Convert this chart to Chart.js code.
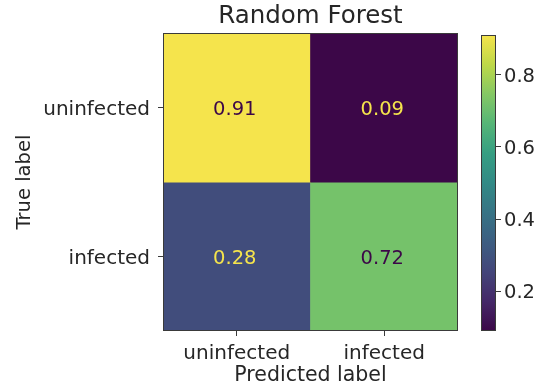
<!DOCTYPE html>
<html>
<head>
<meta charset="utf-8">
<script src="https://cdn.jsdelivr.net/npm/chart.js@4.4.1/dist/chart.umd.min.js"></script>
<style>
  html, body { margin: 0; padding: 0; background: #ffffff; }
  #wrap { position: relative; width: 538px; height: 387px; overflow: hidden; }
  #heat { position: absolute; left: 0; top: 0; }
  #cbar { position: absolute; left: 440px; top: 0; }
</style>
</head>
<body>
<div id="wrap">
  <canvas id="heat" width="470" height="387"></canvas>
  <canvas id="cbar" width="98" height="387"></canvas>
</div>
<script>
// Confusion matrix (normalised by true class)
const classLabels = ['uninfected', 'infected'];
const rowUninfected = [0.91, 0.09];
const rowInfected = [0.28, 0.72];
const colorbarTicks = [0.2, 0.4, 0.6, 0.8];
const chartTitle = 'Random Forest';
const xAxisTitle = 'Predicted label';
const yAxisTitle = 'True label';

const matrixRows = [rowUninfected, rowInfected];
const allValues = matrixRows.flat();
const vmin = Math.min(...allValues);
const vmax = Math.max(...allValues);

// viridis colormap, 11 evenly spaced stops, rendered slightly muted
const VIRIDIS = ['#440154', '#482475', '#414487', '#355f8d', '#2a788e', '#21918c',
                 '#22a884', '#44bf70', '#7ad151', '#bddf26', '#fde725'];
const SATURATION = 0.78;
function hexToRgb(h) {
  return [parseInt(h.slice(1, 3), 16), parseInt(h.slice(3, 5), 16), parseInt(h.slice(5, 7), 16)];
}
const VIRIDIS_RGB = VIRIDIS.map(hexToRgb);
function viridis(t) {
  t = Math.max(0, Math.min(1, t));
  const pos = t * (VIRIDIS_RGB.length - 1);
  const i = Math.min(Math.floor(pos), VIRIDIS_RGB.length - 2);
  const f = pos - i;
  const a = VIRIDIS_RGB[i], b = VIRIDIS_RGB[i + 1];
  const c = a.map((v, k) => v + (b[k] - v) * f);
  const lum = 0.299 * c[0] + 0.587 * c[1] + 0.114 * c[2];
  const m = c.map(v => Math.round(Math.max(0, Math.min(255, lum + (v - lum) * SATURATION))));
  return `rgb(${m[0]},${m[1]},${m[2]})`;
}
const norm = v => (v - vmin) / (vmax - vmin);
const colorFor = v => viridis(norm(v));
const textColorFor = v => (v < (vmin + vmax) / 2 ? viridis(1) : viridis(0));

const FONT = "'DejaVu Sans', sans-serif";
const INK = '#262626';
const FRAME = '#3a3a3a';

// one floating-bar dataset per true-label row, spanning [row-0.5, row+0.5]
const datasets = matrixRows.map((row, r) => ({
  label: classLabels[r],
  data: row.map(() => [r - 0.5, r + 0.5]),
  values: row,
  backgroundColor: row.map(colorFor),
  borderWidth: 0,
  barPercentage: 1,
  categoryPercentage: 1,
  grouped: false
}));

const cellLabels = {
  id: 'cellLabels',
  afterDatasetsDraw(chart) {
    const ctx = chart.ctx;
    ctx.save();
    ctx.font = `19.5px ${FONT}`;
    ctx.textAlign = 'center';
    ctx.textBaseline = 'middle';
    chart.data.datasets.forEach((ds, di) => {
      chart.getDatasetMeta(di).data.forEach((bar, j) => {
        const v = ds.values[j];
        ctx.fillStyle = textColorFor(v);
        ctx.fillText(v.toFixed(2), bar.x - 2, (bar.y + bar.base) / 2 + 2);
      });
    });
    ctx.restore();
  }
};

const frame = {
  id: 'frame',
  afterDraw(chart) {
    const a = chart.chartArea;
    const ctx = chart.ctx;
    ctx.save();
    ctx.strokeStyle = FRAME;
    ctx.lineWidth = 1;
    ctx.strokeRect(Math.round(a.left) + 0.5, Math.round(a.top) + 0.5,
                   Math.round(a.right - a.left) - 1, Math.round(a.bottom - a.top) - 1);
    ctx.restore();
  }
};

new Chart(document.getElementById('heat'), {
  type: 'bar',
  data: { labels: classLabels, datasets },
  options: {
    responsive: false,
    animation: false,
    devicePixelRatio: 1,
    layout: { padding: { left: 0, right: 12, top: 0, bottom: 0 } },
    plugins: {
      legend: { display: false },
      tooltip: { enabled: false },
      title: {
        display: true,
        text: chartTitle,
        fullSize: false,
        color: INK,
        font: { family: FONT, size: 24.5, weight: 'normal', lineHeight: 1.15 },
        padding: { top: 3, bottom: 2 }
      }
    },
    scales: {
      x: {
        type: 'category',
        offset: true,
        afterFit(s) { s.height = 56; },
        grid: { drawOnChartArea: false, drawTicks: true, tickLength: 5, color: FRAME, offset: false },
        border: { display: false },
        ticks: { color: INK, padding: 6, font: { family: FONT, size: 20 }, maxRotation: 0 },
        title: {
          display: true, text: xAxisTitle, color: INK,
          font: { family: FONT, size: 20.5, lineHeight: 1.2 },
          padding: { top: 0, bottom: -1 }
        }
      },
      y: {
        type: 'linear',
        reverse: true,
        min: -0.5,
        max: 1.5,
        afterFit(s) { s.width = 163; },
        afterBuildTicks(s) { s.ticks = classLabels.map((_, i) => ({ value: i })); },
        grid: { drawOnChartArea: false, drawTicks: true, tickLength: 5, color: FRAME },
        border: { display: false },
        ticks: {
          color: INK, padding: 8, labelOffset: 2, font: { family: FONT, size: 20 },
          callback: v => classLabels[v]
        },
        title: {
          display: true, text: yAxisTitle, color: INK,
          font: { family: FONT, size: 19.5, lineHeight: 1.2 },
          padding: { top: 13, bottom: 0 }
        }
      }
    }
  },
  plugins: [cellLabels, frame]
});

// colour bar: a single floating bar filled with the colormap gradient
function gradientFill(context) {
  const chart = context.chart;
  const y = chart.scales.y;
  if (!chart.chartArea || !y) return viridis(0.5);
  const y0 = y.getPixelForValue(vmin);
  const y1 = y.getPixelForValue(vmax);
  const g = chart.ctx.createLinearGradient(0, y0, 0, y1);
  for (let i = 0; i <= 50; i++) g.addColorStop(i / 50, viridis(i / 50));
  return g;
}

new Chart(document.getElementById('cbar'), {
  type: 'bar',
  data: {
    labels: ['scale'],
    datasets: [{
      data: [[vmin, vmax]],
      backgroundColor: gradientFill,
      borderWidth: 0,
      barPercentage: 1,
      categoryPercentage: 1
    }]
  },
  options: {
    responsive: false,
    animation: false,
    devicePixelRatio: 1,
    layout: { padding: { left: 41, right: 0, top: 35, bottom: 56 } },
    plugins: { legend: { display: false }, tooltip: { enabled: false } },
    scales: {
      x: { display: false, offset: true },
      y: {
        position: 'right',
        min: vmin,
        max: vmax,
        afterFit(s) { s.width = 42; },
        afterBuildTicks(s) { s.ticks = colorbarTicks.map(v => ({ value: v })); },
        grid: { drawOnChartArea: false, drawTicks: true, tickLength: 5, color: FRAME },
        border: { display: false },
        ticks: {
          color: INK, padding: 3, labelOffset: 2, font: { family: FONT, size: 19.5 },
          callback: v => v.toFixed(1)
        }
      }
    }
  },
  plugins: [frame]
});
</script>
</body>
</html>
